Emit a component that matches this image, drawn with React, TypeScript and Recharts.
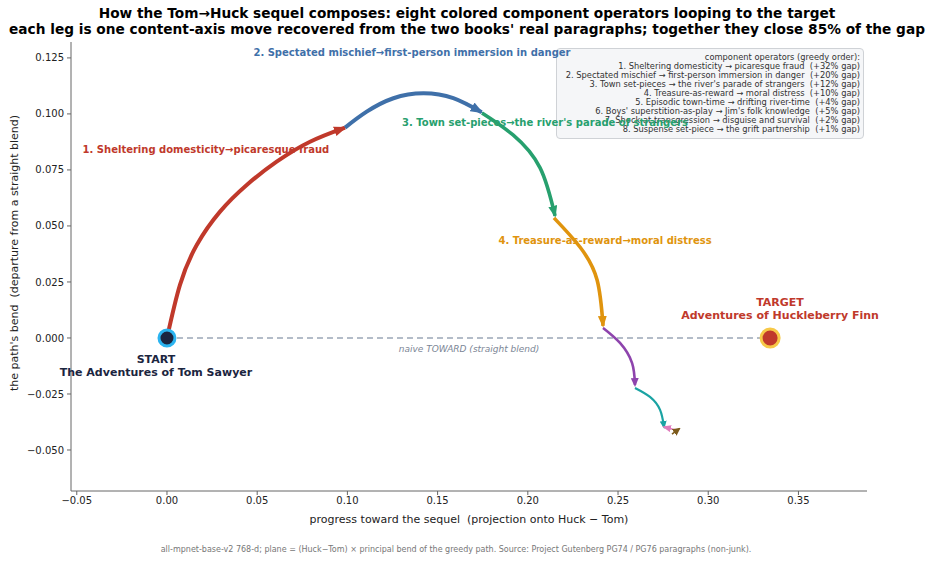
import { ComposedChart, Line, XAxis, YAxis, Scatter, ReferenceDot } from "recharts";

const X_TICKS = [-0.05, 0, 0.05, 0.1, 0.15, 0.2, 0.25, 0.3, 0.35];
const Y_TICKS = [-0.05, -0.025, 0, 0.025, 0.05, 0.075, 0.1, 0.125];

const START = { x: 0, y: 0 };
const TARGET = { x: 0.3343, y: 0 };
const NAIVE = [START, TARGET];

// each leg: start, a few points along it, arrow tip
const LEG_1 = [
  { x: 0, y: 0 },
  { x: 0.0072, y: 0.0237 },
  { x: 0.0165, y: 0.0415 },
  { x: 0.0294, y: 0.0564 },
  { x: 0.0442, y: 0.0683 },
  { x: 0.0608, y: 0.0787 },
  { x: 0.0793, y: 0.0876 },
  { x: 0.0987, y: 0.0939 },
];
const LEG_2 = [
  { x: 0.0987, y: 0.0939 },
  { x: 0.1107, y: 0.101 },
  { x: 0.1255, y: 0.107 },
  { x: 0.1421, y: 0.1092 },
  { x: 0.1587, y: 0.107 },
  { x: 0.1744, y: 0.1007 },
];
const LEG_3 = [
  { x: 0.1746, y: 0.1004 },
  { x: 0.1918, y: 0.0906 },
  { x: 0.2068, y: 0.0759 },
  { x: 0.2151, y: 0.0545 },
];
const LEG_4 = [
  { x: 0.2145, y: 0.0536 },
  { x: 0.2289, y: 0.0406 },
  { x: 0.2384, y: 0.0259 },
  { x: 0.2417, y: 0.0054 },
];
const LEG_5 = [
  { x: 0.2417, y: 0.0045 },
  { x: 0.2511, y: -0.0022 },
  { x: 0.2578, y: -0.0112 },
  { x: 0.2594, y: -0.021 },
];
const LEG_6 = [
  { x: 0.2594, y: -0.0223 },
  { x: 0.2677, y: -0.0263 },
  { x: 0.2733, y: -0.0321 },
  { x: 0.2755, y: -0.0397 },
];
const LEG_7 = [
  { x: 0.2821, y: -0.0411 },
  { x: 0.2755, y: -0.0397 },
];
const LEG_8 = [
  { x: 0.2799, y: -0.0429 },
  { x: 0.2838, y: -0.0406 },
];

const OPERATORS = [
  "Sheltering domesticity → picaresque fraud",
  "Spectated mischief → first-person immersion in danger",
  "Town set-pieces → the river's parade of strangers",
  "Treasure-as-reward → moral distress",
  "Episodic town-time → drifting river-time",
  "Boys' superstition-as-play → Jim's folk knowledge",
  "Shock at transgression → disguise and survival",
  "Suspense set-piece → the grift partnership",
];
const GAP_SHARE = [32, 20, 12, 10, 4, 5, 2, 1];

// where the first four legs are named on the plot
const LEG_LABELS = [
  { x: 0.0216, y: 0.0839, leg: 0 },
  { x: 0.1358, y: 0.1272, leg: 1 },
  { x: 0.2095, y: 0.096, leg: 2 },
  { x: 0.2428, y: 0.0437, leg: 3 },
];

const LEGS = [LEG_1, LEG_2, LEG_3, LEG_4, LEG_5, LEG_6, LEG_7, LEG_8];
const COLORS = ["#c0392b", "#3f70a9", "#27a06e", "#e0940e", "#8e44ad", "#1aa3a3", "#e07cbc", "#7d5b1c"];
const WIDTHS = [4, 4, 3.6, 3.6, 2.6, 2.2, 1.6, 1.6];
const HEADS = [
  [13, 10],
  [13, 10],
  [12, 9],
  [12, 9],
  [9, 8],
  [8, 7],
  [9, 7],
  [8, 8],
];

const FONT = "'DejaVu Sans', sans-serif";
const minus = (v: number, d: number) => (v < 0 ? "\u2212" : "") + Math.abs(v).toFixed(d);

function TextMark(props: any) {
  const { cx, cy, payload } = props;
  const color = COLORS[payload.leg];
  const text = `${payload.leg + 1}. ${OPERATORS[payload.leg].replace(" → ", "→")}`;
  return (
    <text x={cx} y={cy} textAnchor="middle" dominantBaseline="central" fill={color} fontSize={10} fontWeight="bold" fontFamily={FONT}>
      {text}
    </text>
  );
}

function Caption({ x, y, lines, color, size }: any) {
  return (
    <>
      {lines.map((l: string, i: number) => (
        <ReferenceDot
          key={i}
          x={x}
          y={y[i]}
          r={0}
          fill="none"
          stroke="none"
          label={{ value: l, position: "center", fill: color, fontSize: size, fontWeight: "bold", fontFamily: FONT }}
        />
      ))}
    </>
  );
}

export default function App() {
  return (
    <div style={{ position: "absolute", left: 0, top: 0, width: 934, height: 584, background: "#fff", fontFamily: FONT }}>
      <svg width={0} height={0} style={{ position: "absolute" }}>
        <defs>
          {HEADS.map(([len, wid], i) => (
            <marker
              key={i}
              id={`head${i}`}
              markerUnits="userSpaceOnUse"
              markerWidth={len}
              markerHeight={wid}
              refX={len - 2}
              refY={wid / 2}
              orient="auto"
            >
              <path d={`M0,0 L${len},${wid / 2} L0,${wid} z`} fill={COLORS[i]} />
            </marker>
          ))}
        </defs>
      </svg>

      <div
        style={{
          position: "absolute",
          left: 0,
          top: 5,
          width: 934,
          textAlign: "center",
          fontWeight: "bold",
          fontSize: 13.7,
          lineHeight: "16px",
          color: "#000",
          whiteSpace: "nowrap",
        }}
      >
        How the Tom→Huck sequel composes: eight colored component operators looping to the target
        <br />
        each leg is one content-axis move recovered from the two books' real paragraphs; together they close 85% of the gap
      </div>

      <div
        style={{
          position: "absolute",
          left: 556,
          top: 48,
          width: 300,
          height: 83,
          padding: "4px 3px 2px 3px",
          background: "#f5f6f8",
          border: "1px solid #cfd2d6",
          borderRadius: 4,
          textAlign: "right",
          fontSize: 8.3,
          lineHeight: "9.05px",
          color: "#333",
          whiteSpace: "pre",
        }}
      >
        {"component operators (greedy order):"}
        {OPERATORS.map((op, i) => (
          <div key={i}>{`${i + 1}. ${op}  (+${GAP_SHARE[i]}% gap)`}</div>
        ))}
      </div>

      <div style={{ position: "absolute", left: 0, top: 0 }}>
        <ComposedChart width={934} height={584} margin={{ top: 42, right: 67, bottom: 0, left: 0 }}>
          <XAxis
            type="number"
            dataKey="x"
            domain={[-0.0532, 0.388]}
            ticks={X_TICKS}
            allowDataOverflow
            height={93}
            tickSize={4}
            tickMargin={2}
            tickFormatter={(v: number) => minus(v, 2)}
            stroke="#666"
            tick={{ fill: "#222", fontSize: 10, fontFamily: FONT }}
          />
          <YAxis
            type="number"
            dataKey="y"
            domain={[-0.0683, 0.1321]}
            ticks={Y_TICKS}
            allowDataOverflow
            width={71}
            tickSize={4}
            tickMargin={3}
            tickFormatter={(v: number) => minus(v, 3)}
            stroke="#666"
            tick={{ fill: "#222", fontSize: 10, fontFamily: FONT }}
          />
          <Line
            data={NAIVE}
            dataKey="y"
            type="linear"
            stroke="#9aa6b6"
            strokeWidth={1.5}
            strokeDasharray="6 4"
            dot={false}
            isAnimationActive={false}
          />
          {LEGS.map((leg, i) => (
            <Line
              key={i}
              data={leg}
              dataKey="y"
              type={leg.length > 2 ? "natural" : "linear"}
              stroke={COLORS[i]}
              strokeWidth={WIDTHS[i]}
              markerEnd={`url(#head${i})`}
              dot={false}
              isAnimationActive={false}
            />
          ))}
          <ReferenceDot x={START.x} y={START.y} r={8} fill="#1b2540" stroke="#2bb4f0" strokeWidth={3} />
          <ReferenceDot x={TARGET.x} y={TARGET.y} r={9} fill="#c0392b" stroke="#f7c948" strokeWidth={3} />
          <Scatter data={LEG_LABELS} dataKey="y" shape={TextMark} isAnimationActive={false} />
          {Caption({ x: -0.0061, y: [-0.0094, -0.0152], lines: ["START", "The Adventures of Tom Sawyer"], color: "#1b2540", size: 11 })}
          {Caption({ x: 0.3398, y: [0.0161, 0.0103], lines: ["TARGET", "Adventures of Huckleberry Finn"], color: "#c0392b", size: 11 })}
          <ReferenceDot
            x={0.1674}
            y={-0.005}
            r={0}
            fill="none"
            stroke="none"
            label={{ value: "naive TOWARD (straight blend)", position: "center", fill: "#7c8696", fontSize: 9, fontStyle: "italic", fontFamily: FONT }}
          />
        </ComposedChart>
      </div>

      <svg width={934} height={584} style={{ position: "absolute", left: 0, top: 0, pointerEvents: "none" }}>
        <text x={14} y={253} transform="rotate(-90 14 253)" textAnchor="middle" dominantBaseline="central" fontSize={11} fill="#222" fontFamily={FONT} style={{ whiteSpace: "pre" }}>
          the path's bend  (departure from a straight blend)
        </text>
        <text x={469} y={519} textAnchor="middle" dominantBaseline="central" fontSize={11} fill="#222" fontFamily={FONT} style={{ whiteSpace: "pre" }}>
          progress toward the sequel  (projection onto Huck − Tom)
        </text>
        <text x={456} y={549} textAnchor="middle" dominantBaseline="central" fontSize={8} fill="#777" fontFamily={FONT}>
          all-mpnet-base-v2 768-d; plane = (Huck−Tom) × principal bend of the greedy path. Source: Project Gutenberg PG74 / PG76 paragraphs (non-junk).
        </text>
      </svg>
    </div>
  );
}
